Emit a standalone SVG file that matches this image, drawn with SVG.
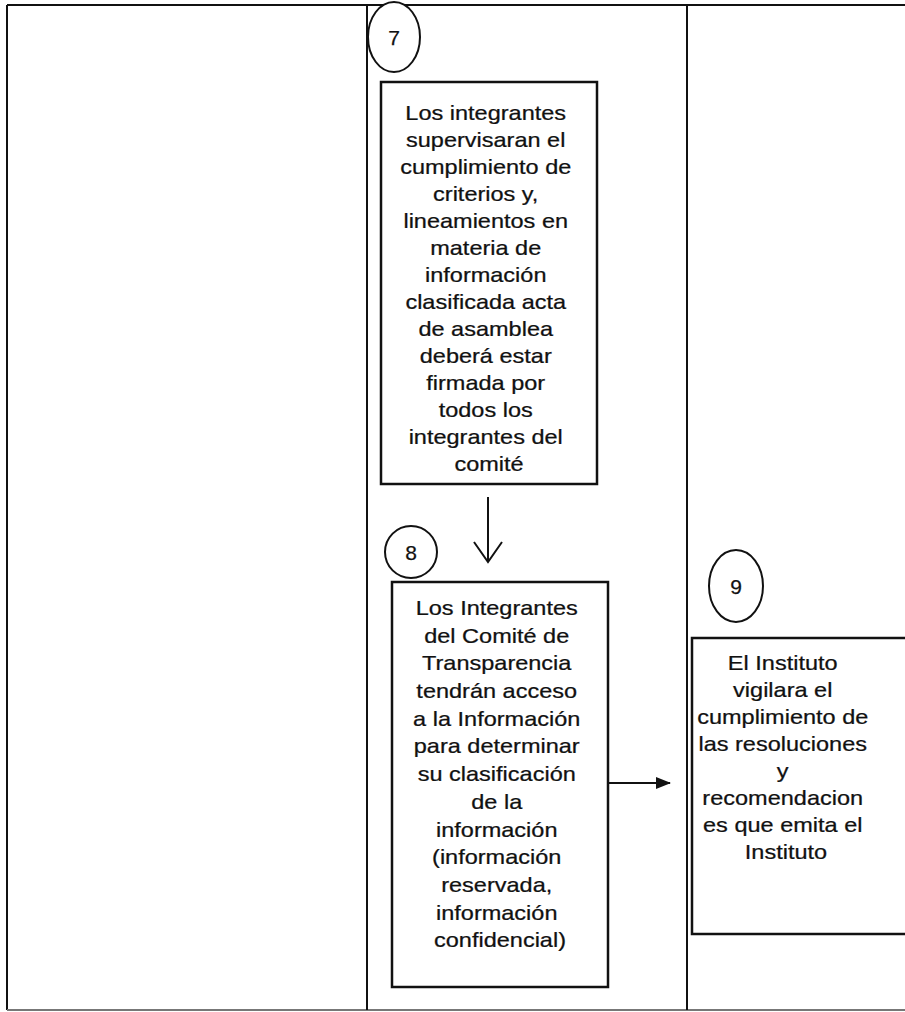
<svg xmlns="http://www.w3.org/2000/svg" width="905" height="1012" viewBox="0 0 905 1012">
<style>
.frame{fill:none;stroke:#111;stroke-width:2}
.box{fill:#fff;stroke:#111;stroke-width:2.5}
.circ{fill:#fff;stroke:#111;stroke-width:2}
.t{font-family:"Liberation Sans",Arial,sans-serif;font-size:21px;fill:#111;stroke:#111;stroke-width:0.25;text-anchor:middle}
.n{font-family:"Liberation Sans",Arial,sans-serif;font-size:21px;fill:#111;stroke:#111;stroke-width:0.25;text-anchor:middle}
.con{fill:none;stroke:#111;stroke-width:2}
</style>
<defs>
<marker id="fill" markerWidth="15" markerHeight="14" refX="14" refY="7" orient="auto" markerUnits="userSpaceOnUse">
<path d="M0,1 L15,7 L0,13 Z" fill="#111"/>
</marker>
<marker id="open" markerWidth="30" markerHeight="24" refX="15" refY="22" orient="0" markerUnits="userSpaceOnUse">
<path d="M1,2 L15,22 L29,2" fill="none" stroke="#111" stroke-width="2"/>
</marker>
</defs>
<g id="frame">
<line class="frame" x1="7" y1="5" x2="905" y2="5"/>
<line class="frame" x1="7" y1="5" x2="7" y2="1010"/>
<line x1="7" y1="1010" x2="905" y2="1010" stroke="#777" stroke-width="2"/>
<line class="frame" x1="367" y1="5" x2="367" y2="1010"/>
<line class="frame" x1="687" y1="5" x2="687" y2="1010"/>
</g>
<g id="n7">
<ellipse class="circ" cx="394" cy="37" rx="26" ry="35"/>
<text class="n" x="394" y="45">7</text>
<rect class="box" x="381" y="82" width="216" height="402"/>
<g transform="translate(489 0) scale(1.12 1)">
<text class="t">
<tspan x="0" y="120">Los integrantes</tspan>
<tspan x="0" y="147">supervisaran el</tspan>
<tspan x="0" y="174">cumplimiento de</tspan>
<tspan x="0" y="201">criterios y,</tspan>
<tspan x="0" y="228">lineamientos en</tspan>
<tspan x="0" y="255">materia de</tspan>
<tspan x="0" y="282">información</tspan>
<tspan x="0" y="309">clasificada  acta</tspan>
<tspan x="0" y="336">de asamblea</tspan>
<tspan x="0" y="363">deberá estar</tspan>
<tspan x="0" y="390">firmada por</tspan>
<tspan x="0" y="417">todos los</tspan>
<tspan x="0" y="444">integrantes del</tspan>
<tspan x="0" y="471">comité</tspan>
</text>
</g>
</g>
<g id="n8">
<ellipse class="circ" cx="411" cy="552" rx="26" ry="26"/>
<text class="n" x="411" y="560">8</text>
<rect class="box" x="392" y="582" width="216" height="405"/>
<g transform="translate(500 0) scale(1.12 1)">
<text class="t">
<tspan x="0" y="615">Los  Integrantes</tspan>
<tspan x="0" y="642.7">del Comité de</tspan>
<tspan x="0" y="670.4">Transparencia</tspan>
<tspan x="0" y="698.1">tendrán acceso</tspan>
<tspan x="0" y="725.8">a la Información</tspan>
<tspan x="0" y="753.5">para determinar</tspan>
<tspan x="0" y="781.2">su clasificación</tspan>
<tspan x="0" y="808.9">de la</tspan>
<tspan x="0" y="836.6">información</tspan>
<tspan x="0" y="864.3">(información</tspan>
<tspan x="0" y="892">reservada,</tspan>
<tspan x="0" y="919.7">información</tspan>
<tspan x="0" y="947.4">confidencial)</tspan>
</text>
</g>
</g>
<g id="n9">
<ellipse class="circ" cx="736" cy="586" rx="27" ry="36"/>
<text class="n" x="736" y="594">9</text>
<rect class="box" x="692" y="638" width="220" height="296"/>
<g transform="translate(786 0) scale(1.12 1)">
<text class="t">
<tspan x="0" y="670">El Instituto</tspan>
<tspan x="0" y="697">vigilara el</tspan>
<tspan x="0" y="724">cumplimiento de</tspan>
<tspan x="0" y="751">las resoluciones</tspan>
<tspan x="0" y="778">y</tspan>
<tspan x="0" y="805">recomendacion</tspan>
<tspan x="0" y="832">es que emita el</tspan>
<tspan x="0" y="859">Instituto</tspan>
</text>
</g>
</g>
<g id="connectors">
<line class="con" x1="488" y1="497" x2="488" y2="562" marker-end="url(#open)"/>
<line class="con" x1="608" y1="783" x2="670" y2="783" marker-end="url(#fill)"/>
</g>
</svg>
